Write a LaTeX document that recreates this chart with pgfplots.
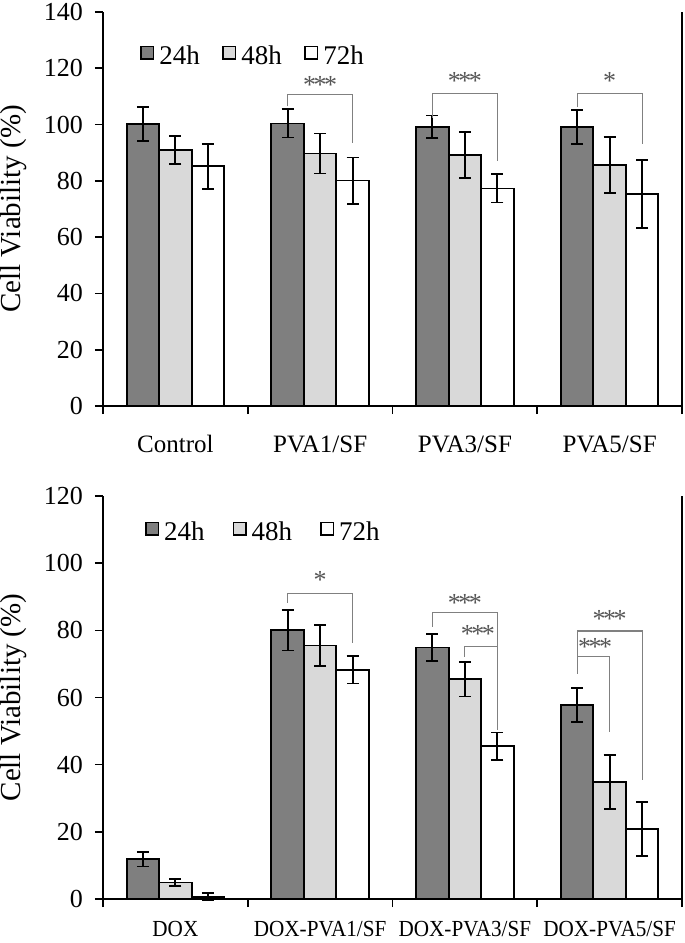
\documentclass[border=0pt]{standalone}
\usepackage{fontspec}
\setmainfont{Liberation Serif}
\newfontfamily\condfont[FakeStretch=0.92]{Liberation Serif}
\usepackage{pgfplots}
\usepackage{pgfplotstable}
\pgfplotsset{compat=1.18}
\definecolor{dg}{HTML}{7F7F7F}
\definecolor{lg}{HTML}{D9D9D9}
\definecolor{brkc}{HTML}{808080}
\definecolor{ast}{HTML}{555555}
\newcommand{\three}{*\kern-2.5pt*\kern-2.5pt*}
\pgfplotstableread{
x y24 e24 y48 e48 y72 e72
0 100.3 6.0 90.9 5.0 85.2 8.0
1 100.4 5.0 89.7 7.1 80.1 8.2
2 99.2 4.0 89.2 8.2 77.3 5.0
3 99.2 6.0 85.6 10.0 75.3 12.0
}\toptab
\pgfplotstableread{
x y24 e24 y48 e48 y72 e72
0 11.8 2.1 4.9 1.0 0.7 1.0
1 80.0 6.0 75.5 6.0 68.3 4.1
2 74.9 4.1 65.4 5.1 45.5 4.1
3 57.7 5.1 34.8 8.0 20.8 8.0
}\bottab
\tikzset{
  brk/.style={draw=brkc, line width=1.1pt},
  astn/.style={text=ast, font=\fontsize{26}{28}\selectfont, anchor=base, yshift=-12pt},
}
\pgfplotsset{
  cv/.style={
    scale only axis, width=579pt,
    ybar, bar width=0.2246,
    xmin=-0.5, xmax=3.5, ymin=0,
    axis x line*=bottom, axis y line*=left,
    axis line style={line width=1.8pt, black},
    tick align=outside,
    major tick length=8pt,
    tick style={line width=1.6pt, black},
    xtick={-0.5,0.5,1.5,2.5,3.5},
    xticklabels={,,,,},
    extra x ticks={0,1,2,3},
    extra x tick style={major tick length=0pt},
    /pgf/number format/assume math mode=true,
    yticklabel style={font=\fontsize{26}{28}\selectfont, anchor=east, inner sep=0pt, xshift=-12pt},
    ylabel={Cell Viability (\%)},
    ylabel style={font=\fontsize{29}{32}\selectfont, at={(axis description cs:-0.1537,0.5)}, anchor=center},
    legend image code/.code={\draw[##1,/tikz/.cd,line width=1.5pt] (0pt,-3pt) rectangle (12.5pt,9.5pt);},
    legend style={draw=none, fill=none, inner sep=0pt, anchor=west, legend columns=3,
      font=\fontsize{27}{29}\selectfont, nodes={inner ysep=2pt, inner xsep=5pt}},
    clip=false,
  },
  errs/.style={error bars/y dir=both, error bars/y explicit,
    error bars/error bar style={line width=1.8pt, black},
    error bars/error mark options={rotate=90, line width=1.8pt, black, mark size=6pt}},
  b24/.style={fill=dg, draw=black, line width=1.8pt, bar shift=-0.2246, errs},
  b48/.style={fill=lg, draw=black, line width=1.8pt, bar shift=0, errs},
  b72/.style={fill=white, draw=black, line width=1.8pt, bar shift=0.2246, errs},
}
\begin{document}
\begin{tikzpicture}
\useasboundingbox (0,0) rectangle (685pt,-943pt);
\begin{axis}[cv, at={(103pt,-406pt)}, anchor=south west, height=394pt,
  ymax=140, ytick={0,20,...,140},
  extra x tick labels={Control,PVA1/SF,PVA3/SF,PVA5/SF},
  xticklabel style={font=\fontsize{25}{28}\selectfont, anchor=base, yshift=-46pt},
  legend style={at={(axis cs:-0.244,124.4)}, /tikz/every even column/.append style={column sep=17.5pt}},
]
\addplot[b24] table[x=x, y=y24, y error=e24] {\toptab};
\addplot[b48] table[x=x, y=y48, y error=e48] {\toptab};
\addplot[b72] table[x=x, y=y72, y error=e72] {\toptab};
\legend{24h,48h,72h}
\draw[line width=1.8pt] (rel axis cs:1,0) -- (rel axis cs:1,1);
\draw[brk] (axis cs:0.7754,106.5) |- (axis cs:1.2246,110.7) -- (axis cs:1.2246,93.5);
\draw[brk] (axis cs:1.7754,102.4) |- (axis cs:2.2246,110.9) -- (axis cs:2.2246,87);
\draw[brk] (axis cs:2.7754,106.2) |- (axis cs:3.2246,110.9) -- (axis cs:3.2246,93.1);
\node[astn] at (axis cs:1,115.4) {\three};
\node[astn] at (axis cs:2,116.8) {\three};
\node[astn] at (axis cs:3,116.8) {*};
\end{axis}
\begin{axis}[cv, at={(103pt,-899pt)}, anchor=south west, height=403pt,
  ymax=120, ytick={0,20,...,120},
  extra x tick labels={DOX,DOX-PVA1/SF,DOX-PVA3/SF,DOX-PVA5/SF},
  xticklabel style={font=\condfont\fontsize{23}{25}\selectfont, anchor=base, yshift=-37pt},
  legend style={at={(axis cs:-0.211,109.3)}, /tikz/every even column/.append style={column sep=23pt}},
]
\addplot[b24] table[x=x, y=y24, y error=e24] {\bottab};
\addplot[b48] table[x=x, y=y48, y error=e48] {\bottab};
\addplot[b72] table[x=x, y=y72, y error=e72] {\bottab};
\legend{24h,48h,72h}
\draw[line width=1.8pt] (rel axis cs:1,0) -- (rel axis cs:1,1);
\draw[brk] (axis cs:0.7754,88.2) |- (axis cs:1.2246,91.0) -- (axis cs:1.2246,76.3);
\draw[brk] (axis cs:1.7754,81.0) |- (axis cs:2.2246,85.3) -- (axis cs:2.2246,50.2);
\draw[brk] (axis cs:2.0,72.1) |- (axis cs:2.2246,75.2);
\draw[brk] (axis cs:2.7754,67.1) |- (axis cs:3.2246,79.8) -- (axis cs:3.2246,35.3);
\draw[brk] (axis cs:2.7754,72.2) -| (axis cs:3.0,49.7);
\node[astn] at (axis cs:1,95.9) {*};
\node[astn] at (axis cs:2,89.2) {\three};
\node[astn] at (axis cs:2.09,80.0) {\three};
\node[astn] at (axis cs:3,84.3) {\three};
\node[astn] at (axis cs:2.90,76.0) {\three};
\end{axis}
\end{tikzpicture}
\end{document}
